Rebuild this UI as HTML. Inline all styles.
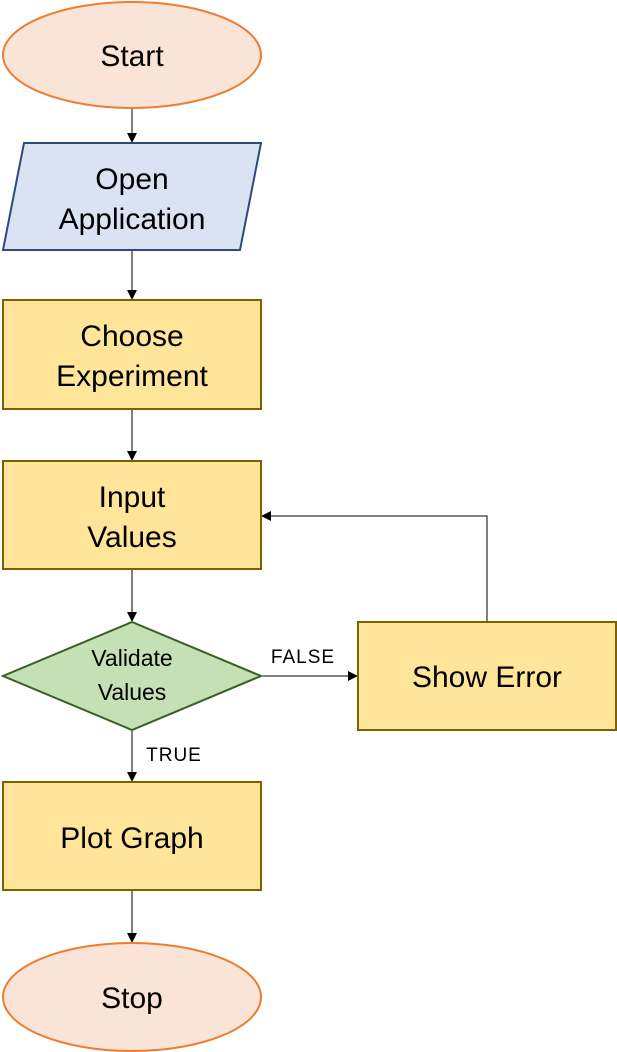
<!DOCTYPE html>
<html><head><meta charset="utf-8"><style>
html,body{margin:0;padding:0;background:#fff;}
svg{display:block;}
text{font-family:"Liberation Sans",sans-serif;fill:#000;}
</style></head><body>
<svg width="617" height="1052" viewBox="0 0 617 1052" xmlns="http://www.w3.org/2000/svg">
<defs><marker id="a" markerWidth="10" markerHeight="10" refX="9" refY="5" orient="auto" markerUnits="userSpaceOnUse"><path d="M0,0 L10,5 L0,10 z" fill="#000"/></marker></defs>
<g stroke="#000" stroke-width="1" fill="none">
<line x1="132" y1="108" x2="132" y2="142" marker-end="url(#a)"/>
<line x1="132" y1="250" x2="132" y2="299" marker-end="url(#a)"/>
<line x1="132" y1="409" x2="132" y2="460" marker-end="url(#a)"/>
<line x1="132" y1="569" x2="132" y2="621" marker-end="url(#a)"/>
<line x1="261" y1="676" x2="357" y2="676" marker-end="url(#a)"/>
<polyline points="487,622 487,516 262,516" marker-end="url(#a)"/>
<line x1="132" y1="730" x2="132" y2="781" marker-end="url(#a)"/>
<line x1="132" y1="890" x2="132" y2="942" marker-end="url(#a)"/>
</g>
<ellipse cx="132" cy="55" rx="129" ry="53" fill="#fae4d8" stroke="#ed7d31" stroke-width="2"/>
<polygon points="24,143 261,143 240,250 3,250" fill="#dae3f3" stroke="#2f4b7c" stroke-width="2"/>
<rect x="3" y="300" width="258" height="109" fill="#ffe599" stroke="#7f6000" stroke-width="2"/>
<rect x="3" y="461" width="258" height="108" fill="#ffe599" stroke="#7f6000" stroke-width="2"/>
<polygon points="132,622 261,676 132,730 3,676" fill="#c5e0b4" stroke="#3a5f24" stroke-width="2"/>
<rect x="358" y="622" width="258" height="108" fill="#ffe599" stroke="#7f6000" stroke-width="2"/>
<rect x="3" y="782" width="258" height="108" fill="#ffe599" stroke="#7f6000" stroke-width="2"/>
<ellipse cx="132" cy="997" rx="129" ry="54" fill="#fae4d8" stroke="#ed7d31" stroke-width="2"/>
<g font-size="30" text-anchor="middle">
<text x="132" y="66">Start</text>
<text x="132" y="189">Open</text>
<text x="132" y="229">Application</text>
<text x="132" y="346">Choose</text>
<text x="132" y="386">Experiment</text>
<text x="132" y="507">Input</text>
<text x="132" y="547">Values</text>
<text x="487" y="687">Show Error</text>
<text x="132" y="848">Plot Graph</text>
<text x="132" y="1008">Stop</text>
</g>
<g font-size="23" text-anchor="middle">
<text x="132" y="666">Validate</text>
<text x="132" y="700">Values</text>
</g>
<g font-size="19" text-anchor="middle" letter-spacing="1">
<text x="303" y="663">FALSE</text>
<text x="174" y="761">TRUE</text>
</g>
</svg>
</body></html>
